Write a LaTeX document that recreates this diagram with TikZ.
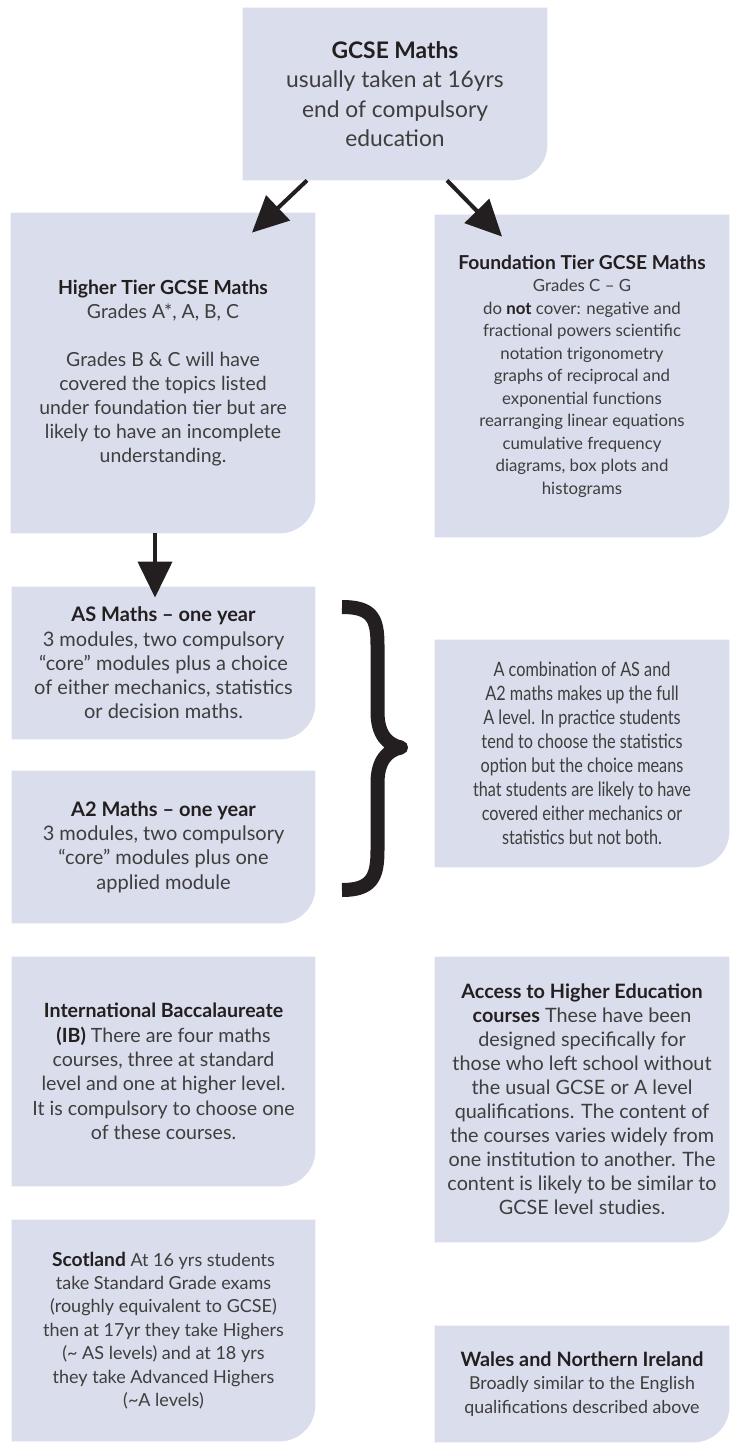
\documentclass[tikz,border=0pt]{standalone}
\usepackage{xcolor}
\usepackage{fontspec}
\setmainfont{Lato}
\newfontfamily\narrowfont{Lato}[FakeStretch=0.82]
\usepackage{tikz}
\usetikzlibrary{arrows.meta, backgrounds}

\definecolor{panelfill}{RGB}{218,221,235}
\definecolor{ink}{RGB}{35,31,32}
\definecolor{bodygrey}{RGB}{62,62,62}

\begin{document}
\begin{tikzpicture}[
    x=0.5pt, y=-0.5pt,
    panel/.style={align=center, inner sep=0pt, text=bodygrey,
        font=\fontsize{9.8}{12}\selectfont},
    flow/.style={draw=ink, line width=2pt, -{Triangle[length=18pt, width=17pt]}}
]
\useasboundingbox (0,0) rectangle (729,1443);

\node (gcse) [panel, minimum width=152pt, minimum height=86pt,
    font=\fontsize{11.4}{14.75}\selectfont] at (395,94)
    {\textcolor{ink}{\textbf{GCSE Maths}}\\ usually taken at 16yrs\\ end of compulsory\\ education};

\node (higher) [panel, minimum width=152pt, minimum height=160pt,
    font=\fontsize{9.7}{12}\selectfont] at (163,373)
    {\textcolor{ink}{\textbf{Higher Tier GCSE Maths}}\\ Grades A*, A, B, C\\[12pt]
     Grades B \& C will have\\ covered the topics listed\\ under foundation tier but are\\
     likely to have an incomplete\\ understanding.};

\node (found) [panel, minimum width=147pt, minimum height=161pt,
    font=\fontsize{8.4}{11.25}\selectfont] at (582,376)
    {\textcolor{ink}{\fontsize{9.6}{11.25}\selectfont\textbf{Foundation Tier GCSE Maths}}\\ Grades C -- G\\
     do \textcolor{ink}{\textbf{not}} cover: negative and\\ fractional powers scientific\\
     notation trigonometry\\ graphs of reciprocal and\\ exponential functions\\
     rearranging linear equations\\ cumulative frequency\\ diagrams, box plots and\\ histograms};

\node (as) [panel, minimum width=151.5pt, minimum height=76pt,
    font=\fontsize{10}{12.15}\selectfont] at (163.5,663)
    {\textcolor{ink}{\textbf{AS Maths -- one year}}\\ 3 modules, two compulsory\\
     ``core'' modules plus a choice\\ of either mechanics, statistics\\ or decision maths.};

\node (atwo) [panel, minimum width=151.5pt, minimum height=76pt,
    font=\fontsize{10}{12.15}\selectfont] at (163.5,847)
    {\textcolor{ink}{\textbf{A2 Maths -- one year}}\\ 3 modules, two compulsory\\
     ``core'' modules plus one\\ applied module};

\node (alevel) [panel, minimum width=147pt, minimum height=113.5pt,
    font=\narrowfont\fontsize{9.9}{12}\selectfont] at (582,753.5)
    {A combination of AS and\\ A2 maths makes up the full\\ A level. In practice students\\
     tend to choose the statistics\\ option but the choice means\\ that students are likely to have\\
     covered either mechanics or\\ statistics but not both.};

\node (ib) [panel, minimum width=151.5pt, minimum height=114.5pt,
    font=\fontsize{9.8}{12.15}\selectfont] at (163.5,1071.5)
    {\textcolor{ink}{\textbf{International Baccalaureate}}\\
     \textcolor{ink}{\textbf{(IB)}} There are four maths\\ courses, three at standard\\
     level and one at higher level.\\ It is compulsory to choose one\\ of these courses.};

\node (access) [panel, minimum width=147pt, minimum height=142.5pt,
    font=\fontsize{9.9}{12}\selectfont] at (582,1099.5)
    {\textcolor{ink}{\textbf{Access to Higher Education}}\\
     \textcolor{ink}{\textbf{courses}} These have been\\ designed specifically for\\
     those who left school without\\ the usual GCSE or A level\\ qualifications. The content of\\
     the courses varies widely from\\ one institution to another. The\\
     content is likely to be similar to\\ GCSE level studies.};

\node (scot) [panel, minimum width=151.5pt, minimum height=110.5pt,
    font=\fontsize{9}{11.7}\selectfont] at (163.5,1330.5)
    {\textcolor{ink}{\fontsize{9.6}{11.7}\selectfont\textbf{Scotland}} At 16 yrs students\\ take Standard Grade exams\\
     (roughly equivalent to GCSE)\\ then at 17yr they take Highers\\
     (\textasciitilde{} AS levels) and at 18 yrs\\ they take Advanced Highers\\ (\textasciitilde A levels)};

\node (wales) [panel, minimum width=147pt, minimum height=58pt,
    font=\fontsize{8.9}{11.7}\selectfont] at (582,1384)
    {\textcolor{ink}{\fontsize{9.9}{11.7}\selectfont\textbf{Wales and Northern Ireland}}\\ Broadly similar to the English\\
     qualifications described above};

% boxes with one round corner
\begin{scope}[on background layer]
\foreach \n in {gcse, higher, found, as, atwo, alevel, ib, access, scot, wales}
    \fill[panelfill] (\n.north west) -- (\n.north east) -- ([yshift=18pt]\n.south east)
        arc[start angle=0, end angle=-90, radius=18pt] -- (\n.south west) -- cycle;
\end{scope}

\draw[flow] ([shift={(-88,0)}]gcse.south) -- ([shift={(89,20)}]higher.north);
\draw[flow] ([shift={(52,0)}]gcse.south) -- ([shift={(-80,22)}]found.north);
\draw[flow] ([shift={(-8,0)}]higher.south) -- ([shift={(-8.5,11)}]as.north);

% the brace
\draw[ink, line width=7pt, line join=round]
    (342,607) .. controls (372,607) and (377.5,618) .. (377.5,645) -- (377.5,712)
    .. controls (377.5,735) and (388,745) .. (401,747.5)
    .. controls (388,750) and (377.5,760) .. (377.5,783) -- (377.5,850)
    .. controls (377.5,877) and (372,890) .. (342,890);

\end{tikzpicture}
\end{document}
